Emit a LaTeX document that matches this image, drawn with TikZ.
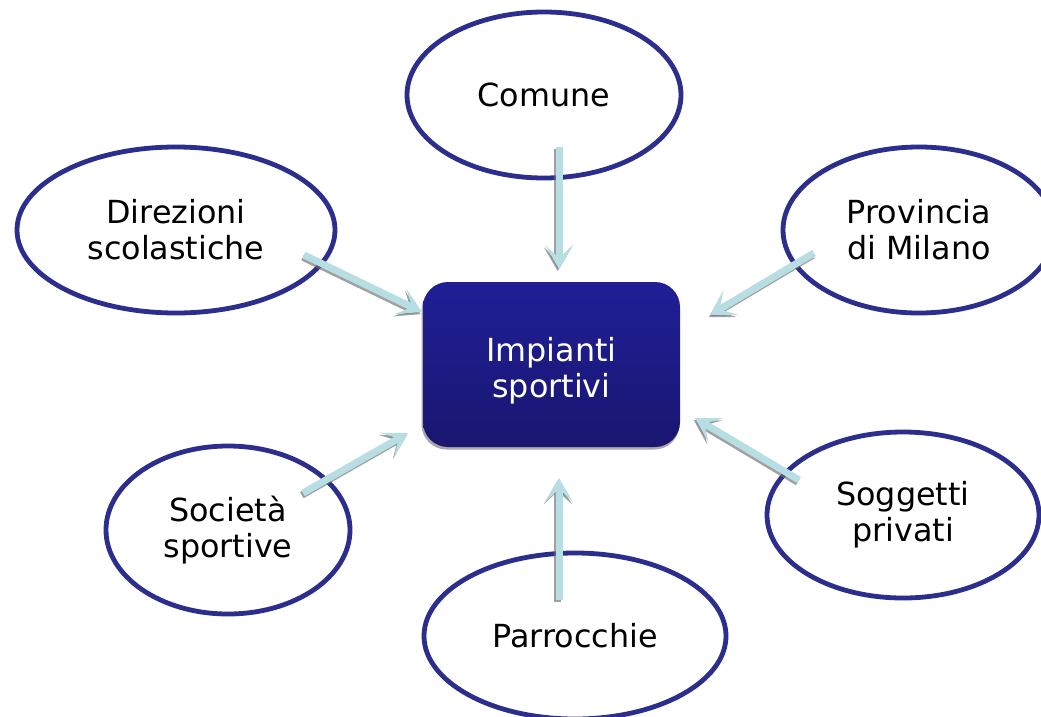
\documentclass[tikz,border=0pt]{standalone}
\usepackage{fontspec}
\setmainfont{DejaVu Sans}
\usetikzlibrary{shapes.geometric,arrows.meta,shadows}
\definecolor{ellblue}{RGB}{43,46,140}
\definecolor{arrcyan}{RGB}{183,223,227}
\definecolor{boxtop}{RGB}{31,31,150}
\definecolor{boxbot}{RGB}{26,22,112}
\definecolor{shgray}{RGB}{110,110,110}
\tikzset{
  ell/.style={ellipse, draw=ellblue, line width=4.8pt, fill=white, inner sep=0pt,
    align=center, font=\fontsize{31.8}{36}\selectfont},
  conn/.style={line width=7pt, draw=arrcyan, fill=arrcyan,
    -{Stealth[length=24pt,width=28pt,inset=13pt]}},
  connshadow/.style={line width=7pt, draw=shgray, fill=shgray, opacity=0.65,
    -{Stealth[length=24pt,width=28pt,inset=13pt]}},
}
\begin{document}
\begin{tikzpicture}[x=1pt,y=-1pt]
\useasboundingbox (0,0) rectangle (1041,717);
\clip (0,0) rectangle (1041,717);

% ellipses
\node[ell, minimum width=274pt, minimum height=166pt] (comune) at (544,95) {Comune};
\node[ell, minimum width=318pt, minimum height=166pt] (direz) at (176,230) {Direzioni\\scolastiche};
\node[ell, minimum width=272pt, minimum height=166pt] (prov) at (919,230) {Provincia\\di Milano};
\node[ell, minimum width=244pt, minimum height=168pt] (soc) at (228,530) {Società\\sportive};
\node[ell, minimum width=272pt, minimum height=166pt] (sogg) at (903,515) {Soggetti\\privati};
\node[ell, minimum width=302pt, minimum height=166pt] (parr) at (575,636) {Parrocchie};

% central box
\fill[shgray, opacity=0.6, rounded corners=25pt] (421.5,285) rectangle (679.5,449.5);
\node[rounded corners=25pt, minimum width=257pt, minimum height=165pt,
  top color=boxtop, bottom color=boxbot] (imp) at (551.5,364.5) {};
\node[text=white, align=center, font=\fontsize{31.8}{36}\selectfont]
  (implbl) at (551.5,370.5) {Impianti\\sportivi};

% arrow end points
\coordinate (s1) at (559,147);  \coordinate (t1) at (559,269);
\coordinate (s2) at (304,255);  \coordinate (t2) at (422,312);
\coordinate (s3) at (814,253);  \coordinate (t3) at (710,315);
\coordinate (s4) at (303,493);  \coordinate (t4) at (408,433);
\coordinate (s5) at (799,480);  \coordinate (t5) at (695,418);
\coordinate (s6) at (559,600);  \coordinate (t6) at (559,478);

% shadows of arrows
\foreach \i in {1,...,6}{\draw[connshadow] ([shift={(-1.2,2.2)}]s\i) -- ([shift={(-1.2,2.2)}]t\i);}
% arrows
\foreach \i in {1,...,6}{\draw[conn] (s\i) -- (t\i);}
\end{tikzpicture}
\end{document}
